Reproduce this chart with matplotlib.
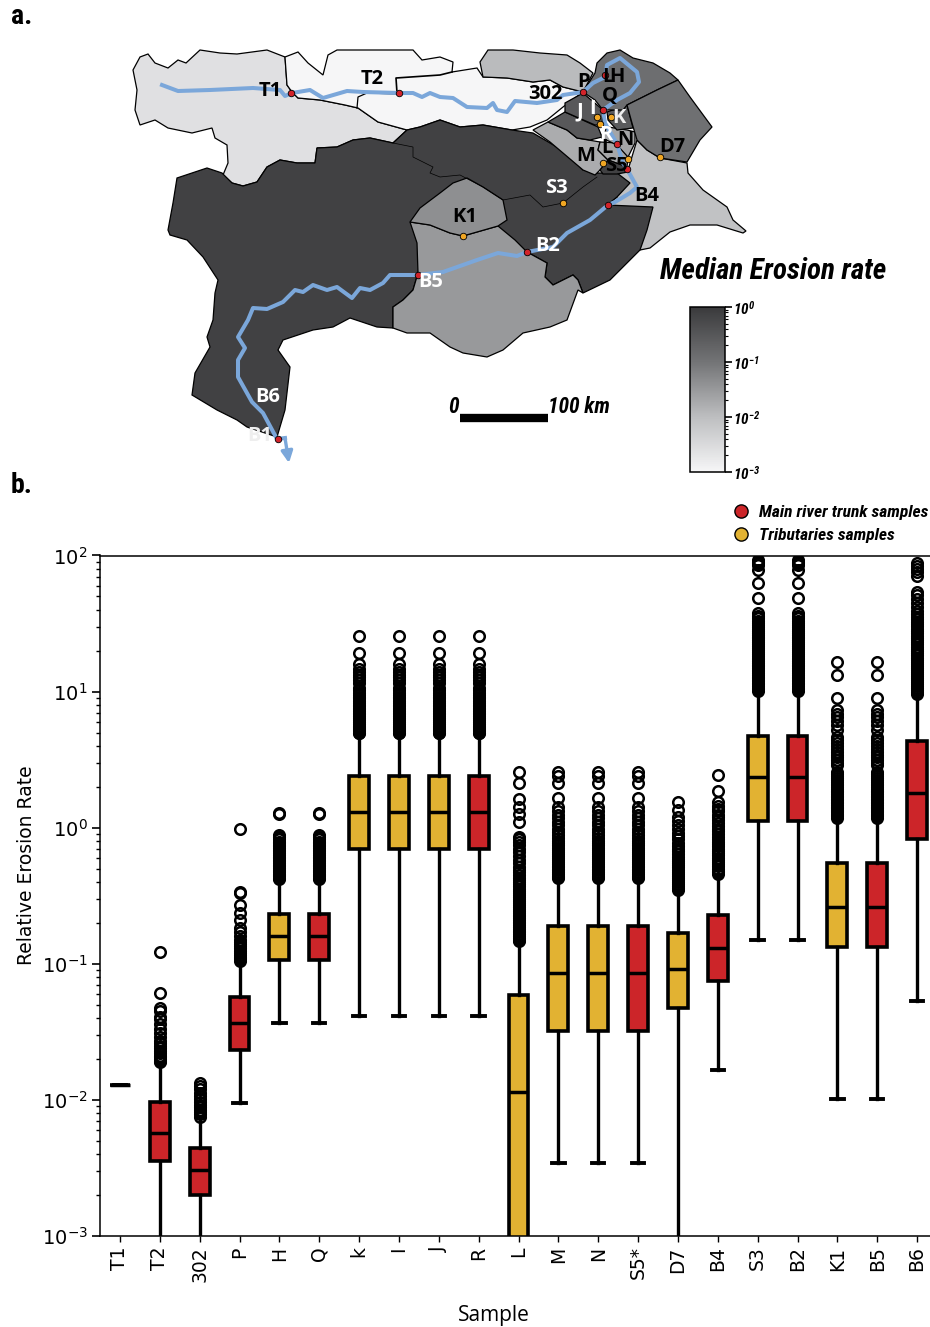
import math
import matplotlib
matplotlib.use('Agg')
import matplotlib.pyplot as plt
from matplotlib.colors import LinearSegmentedColormap, LogNorm
from matplotlib.cm import ScalarMappable
from matplotlib.lines import Line2D
from matplotlib.patches import Polygon, FancyArrowPatch
from matplotlib.ticker import LogLocator, NullFormatter

# ---------- panel b data ----------
samples = ['T1','T2','302','P','H','Q','k','I','J','R','L','M','N','S5*','D7','B4','S3','B2','K1','B5','B6']
kinds = ['trunk','trunk','trunk','trunk','trib','trunk','trib','trib','trib','trunk','trib','trib','trib','trunk','trib','trunk','trib','trunk','trib','trunk','trunk']
medians = [0.01294,0.00574,0.00305,0.0365,0.16,0.16,1.30,1.30,1.30,1.30,0.01148,0.0851,0.0851,0.0851,0.0916,0.13,2.35,2.35,0.261,0.261,1.81]
q1s = [0.01294,0.00357,0.0020,0.0233,0.1067,0.1067,0.701,0.701,0.701,0.701,0.0005,0.0323,0.0323,0.0323,0.0476,0.0752,1.12,1.12,0.1321,0.1321,0.822]
q3s = [0.01294,0.0097,0.00441,0.0573,0.2323,0.2323,2.38,2.38,2.38,2.38,0.059,0.188,0.188,0.188,0.169,0.230,4.70,4.70,0.55,0.55,4.35]
whislos = [0.01294,0.0005,0.0005,0.00948,0.0369,0.0369,0.0416,0.0416,0.0416,0.0416,0.0005,0.00342,0.00342,0.00342,0.0005,0.0166,0.1496,0.1496,0.01016,0.01016,0.0533]
whishis = [0.01294,0.0189,0.0075,0.105,0.42,0.42,4.95,4.95,4.95,4.95,0.146,0.425,0.425,0.425,0.35,0.46,10.1,10.1,1.18,1.18,9.6]

fliers_T2 = [0.122,0.0613,0.0471,0.045,0.041,0.039,0.036,0.033,0.031,0.029,0.027,0.026,0.025,0.024,0.023,0.022,0.021,0.0205,0.020,0.0194,0.0189]
fliers_302 = [0.0134,0.0126,0.012,0.0113,0.0107,0.0101,0.0096,0.0092,0.0088,0.0085,0.0082,0.0079,0.0075]
fliers_P = [0.973,0.337,0.33,0.27,0.235,0.21,0.183,0.17,0.16,0.15,0.145,0.14,0.135,0.13,0.125,0.12,0.116,0.113,0.11,0.108,0.105]
fliers_H = [1.28,1.26,0.883,0.85,0.82,0.79,0.77,0.75,0.73,0.71,0.69,0.67,0.65,0.63,0.61,0.6,0.58,0.565,0.55,0.535,0.52,0.505,0.49,0.48,0.47,0.46,0.45,0.44,0.43,0.42]
fliers_k = [25.6,19.1,16,14.6,13.9,13.3,12.7,12.1,11.6,10.6,10.2,9.8,9.5,9.2,8.9,8.6,8.3,8.0,7.8,7.6,7.4,7.2,7.0,6.8,6.6,6.4,6.2,6.0,5.8,5.6,5.5,5.4,5.3,5.2,5.1,5.0,4.95]
fliers_L = [2.55,2.12,1.63,1.43,1.26,1.1,0.86,0.82,0.78,0.74,0.7,0.66,0.62,0.58,0.55,0.516,0.49,0.47,0.45,0.43,0.415,0.4,0.385,0.37,0.355,0.34,0.33,0.32,0.31,0.3,0.29,0.28,0.27,0.262,0.254,0.246,0.238,0.23,0.223,0.216,0.21,0.204,0.198,0.192,0.186,0.18,0.175,0.17,0.165,0.16,0.155,0.15,0.146]
fliers_M = [2.55,2.4,2.12,1.64,1.43,1.33,1.25,1.17,1.1,1.04,0.98,0.93,0.88,0.84,0.8,0.77,0.74,0.71,0.68,0.66,0.64,0.62,0.6,0.58,0.56,0.54,0.525,0.51,0.5,0.485,0.47,0.455,0.445,0.435,0.425]
fliers_D7 = [1.55,1.35,1.2,1.12,1.05,0.98,0.92,0.87,0.82,0.77,0.73,0.7,0.67,0.64,0.61,0.59,0.57,0.55,0.53,0.51,0.49,0.475,0.46,0.445,0.43,0.415,0.4,0.385,0.37,0.36,0.35]
fliers_B4 = [2.44,1.86,1.55,1.45,1.38,1.32,1.25,1.19,1.13,1.08,1.03,0.98,0.94,0.9,0.86,0.82,0.79,0.76,0.73,0.7,0.67,0.65,0.63,0.6,0.58,0.56,0.54,0.52,0.5,0.48,0.47,0.46]
fliers_S3 = [92,90,88,85,78,62.5,48.4,37.6,36,34.5,33,32,31,30,29,28,27,26.2,25.4,24.6,23.8,23,22.3,21.6,20.9,20.2,19.6,19,18.4,17.8,17.3,16.8,16.3,15.8,15.3,14.9,14.5,14.1,13.7,13.3,12.9,12.5,12.2,11.9,11.6,11.3,11,10.7,10.4,10.1]
fliers_K1 = [16.4,13.2,8.9,7.3,6.9,6.5,6.1,5.7,5.2,4.6,4.4,4.2,4.0,3.8,3.6,3.45,3.3,3.15,3.0,2.9,2.58,2.48,2.4,2.32,2.25,2.18,2.11,2.05,1.99,1.93,1.87,1.82,1.77,1.72,1.67,1.63,1.59,1.55,1.51,1.47,1.43,1.39,1.36,1.33,1.3,1.27,1.24,1.21,1.18]
fliers_B6 = [87.7,84,80,76,71,54,51,48,45,42,39,37,35.5,34,32.7,31.4,30.2,29,27.9,26.8,25.8,24.8,23.9,23,22.2,21.4,20.6,19.9,19.2,18.5,17.8,17.2,16.6,16,15.4,14.9,14.4,13.9,13.4,13,12.6,12.2,11.8,11.4,11,10.6,10.3,10,9.6]
fliers_all = [[],fliers_T2,fliers_302,fliers_P,fliers_H,fliers_H,fliers_k,fliers_k,fliers_k,fliers_k,fliers_L,fliers_M,fliers_M,fliers_M,fliers_D7,fliers_B4,fliers_S3,fliers_S3,fliers_K1,fliers_K1,fliers_B6]

# ---------- panel a data (map coordinates) ----------
basin_T1 = [(133,70),(140,57),(148,54),(155,63),(168,68),(178,60),(186,63),(200,50),(220,53),(237,54),(267,50),(285,57),(287,85),(292,92),(298,98),(320,100),(345,105),(358,108),(378,122),(407,130),(393,143),(370,138),(353,140),(337,147),(317,148),(315,163),(297,163),(280,160),(267,167),(257,182),(243,186),(232,183),(223,175),(228,163),(227,145),(215,138),(212,128),(192,133),(168,128),(155,120),(140,125),(135,110),(137,90)]
basin_T2 = [(285,57),(298,52),(308,63),(323,75),(328,55),(337,50),(413,50),(422,60),(440,57),(453,62),(452,72),(477,68),(483,77),(507,78),(533,82),(550,80),(563,87),(583,92),(563,107),(547,120),(530,127),(512,130),(483,125),(460,127),(440,120),(420,127),(407,130),(378,122),(358,108),(345,105),(320,100),(298,98),(292,92),(287,85)]
basin_north = [(488,50),(480,62),(483,77),(507,78),(533,82),(550,80),(563,87),(583,92),(593,73),(580,63),(567,55),(540,53),(513,50)]
basin_B4 = [(617,173),(628,170),(637,140),(647,150),(660,158),(687,163),(688,173),(703,190),(727,207),(733,220),(746,231),(743,233),(717,225),(690,225),(670,232),(650,248),(640,250),(640,215),(607,205),(617,197)]
basin_big = [(177,178),(207,168),(222,173),(232,183),(243,186),(257,182),(267,167),(280,160),(297,163),(315,163),(317,148),(337,147),(353,140),(370,138),(393,143),(407,130),(420,127),(440,120),(460,127),(483,125),(512,130),(533,133),(550,143),(567,153),(583,170),(597,173),(617,173),(630,183),(617,197),(607,205),(653,207),(647,230),(640,250),(625,265),(610,280),(583,293),(578,280),(573,275),(553,285),(545,277),(547,263),(527,252),(418,273),(413,290),(403,300),(393,307),(393,328),(377,327),(350,318),(333,327),(313,330),(283,340),(278,350),(290,367),(285,410),(277,437),(247,427),(237,420),(217,410),(192,395),(195,373),(210,347),(207,337),(213,320),(215,293),(218,280),(203,257),(187,240),(170,235),(168,230),(173,203)]
basin_B2 = [(410,222),(430,225),(450,233),(463,236),(498,226),(515,240),(527,252),(547,263),(545,277),(553,285),(573,275),(578,280),(583,293),(578,290),(567,320),(550,327),(523,333),(503,350),(487,357),(463,353),(450,347),(430,333),(407,333),(393,328),(393,307),(403,300),(413,290),(418,273),(417,243)]
basin_K1 = [(410,222),(420,208),(440,193),(453,183),(467,178),(483,187),(503,200),(507,220),(498,226),(463,236),(450,233),(430,225)]
basin_M = [(533,130),(548,122),(567,130),(577,138),(600,142),(598,150),(608,160),(603,167),(595,175),(583,170),(563,153),(550,142)]
basin_L = [(598,150),(600,142),(618,143),(628,157),(627,167),(608,160)]
basin_N = [(600,137),(608,127),(627,130),(635,132),(635,143),(628,157),(617,145)]
basin_S5 = [(608,160),(627,167),(628,172),(617,174),(603,174),(600,170)]
basin_R = [(548,122),(565,112),(598,127),(602,137),(590,140),(577,138),(567,130)]
basin_J = [(565,103),(583,93),(603,110),(602,125),(595,125),(565,112)]
basin_K = [(607,112),(627,105),(633,128),(617,130),(608,120)]
basin_H = [(597,63),(607,53),(620,50),(633,58),(653,63),(670,73),(678,80),(657,90),(627,105),(623,110),(603,110),(595,100),(583,92),(595,73)]
basin_D7 = [(627,105),(657,90),(678,80),(690,97),(712,127),(700,140),(687,162),(660,158),(647,150),(637,140),(632,123)]
basins = [basin_T1,basin_T2,basin_north,basin_B4,basin_big,basin_B2,basin_K1,basin_M,basin_L,basin_N,basin_S5,basin_R,basin_J,basin_K,basin_H,basin_D7]
basin_rates = [0.0025,0.001,0.011,0.0085,0.75,0.0316,0.043,0.0175,0.02,0.022,0.75,0.3,0.3,0.27,0.126,0.116]
divide_S3 = [(393,143),(413,147),(413,157),(433,167),(430,173),(440,177),(460,175),(483,187),(503,200),(530,195),(543,207),(563,203),(583,187),(597,177)]
divide_T2a = [(397,93),(396,78),(440,75),(452,72)]
divide_T2b = [(399,94),(367,93),(358,97),(357,108)]
river = [(162,85),(178,91),(210,90),(253,88),(280,90),(285,96),(292,93),(310,90),(323,98),(347,91),(363,92),(399,93),(413,93),(422,97),(430,93),(440,97),(453,98),(467,107),(487,108),(493,103),(497,110),(507,112),(515,101),(537,103),(557,100),(563,95),(583,92),(593,83),(605,77),(607,65),(620,58),(637,72),(639,82),(630,93),(617,100),(603,110),(605,123),(617,144),(623,163),(627,169),(637,187),(630,193),(615,202),(608,205),(590,220),(567,233),(553,247),(527,252),(517,256),(498,253),(477,260),(443,272),(418,275),(390,275),(383,283),(370,290),(360,288),(352,298),(337,287),(327,290),(313,285),(303,292),(295,290),(283,302),(267,309),(253,308),(248,320),(238,337),(245,348),(238,360),(238,377),(252,402),(263,413),(277,439),(285,438)]
trunk_pts = [(291,93),(399,93),(583,92),(605,75),(603,110),(617,144),(627,169),(608,205),(527,252),(418,275),(278,439)]
trib_pts = [(597,117),(611,117),(600,124),(628,159),(603,163),(660,157),(563,203),(463,236)]
map_labels = [('T1',270,91,'k'),('T2',372,79,'k'),('302',545,94,'k'),('P',584,82,'k'),('L',608,77,'k'),('H',617,77,'k'),('Q',610,96,'k'),
              ('J',580,111,'w'),('I',593,109,'w'),('K',619,118,'#eeeeee'),('R',606,135,'w'),('N',625,140,'k'),('L',607,148,'k'),('M',586,156,'k'),
              ('S5',616,166,'k'),('D7',672,147,'k'),('S3',556,188,'w'),('B4',647,196,'k'),('K1',465,217,'k'),('B2',548,246,'w'),('B5',431,282,'w'),('B6',268,397,'w'),('B1',260,436,'#eeeeee')]
cbar_ticks = [1e-3,1e-2,1e-1,1e0]

# ---------- figure ----------
W, H = 930, 1327
fig = plt.figure(figsize=(W/100, H/100), dpi=100)
NARROW = ['Roboto Condensed','Open Sans Condensed','Lato']
RED, YEL = '#CC2529', '#E2B232'

# panel b
ax = fig.add_axes([100/W, 1-1236/H, 837/W, (1236-555.5)/H])
stats = [dict(label=s, med=m, q1=a, q3=b, whislo=l, whishi=h, fliers=f)
         for s,m,a,b,l,h,f in zip(samples,medians,q1s,q3s,whislos,whishis,fliers_all)]
bp = ax.bxp(stats, positions=range(1,22), widths=0.5, capwidths=0.31, patch_artist=True,
            boxprops=dict(linewidth=2.6, edgecolor='k'),
            medianprops=dict(linewidth=2.5, color='k'),
            whiskerprops=dict(linewidth=2.4, color='k'),
            capprops=dict(linewidth=2.8, color='k'),
            flierprops=dict(marker='o', mfc='none', mec='k', ms=7.6, mew=1.8))
for patch, kind in zip(bp['boxes'], kinds):
    patch.set_facecolor(RED if kind=='trunk' else YEL)
for upper_cap in bp['caps'][1::2]:
    upper_cap.set_visible(False)
ax.set_yscale('log')
ax.set_ylim(1e-3, 1e2)
ax.set_xlim(0.5, 21.5)
ax.yaxis.set_major_locator(LogLocator(base=10, numticks=10))
ax.yaxis.set_minor_locator(LogLocator(base=10, subs=[.2,.3,.4,.5,.6,.7,.8,.9], numticks=12))
ax.yaxis.set_minor_formatter(NullFormatter())
ax.tick_params(axis='y', which='major', length=6, width=1.2, labelsize=14, pad=3)
ax.tick_params(axis='y', which='minor', length=3.2, width=1.0)
ax.tick_params(axis='x', length=4.5, width=1.0, labelsize=13.5, pad=3)
ax.set_xticks(range(1,22))
ax.set_xticklabels(samples, rotation=90)
for s in ax.spines.values():
    s.set_linewidth(1.1)
ax.set_ylabel('Relative Erosion Rate', fontsize=13.5, labelpad=0)
ax.yaxis.set_label_coords(-64/837, 0.545)
fig.text(494/W, 1-1315/H, 'Sample', family='Open Sans', fontsize=15, ha='center', va='center')
ax.set_facecolor('none')

# panel a
m = fig.add_axes([0, 1-480/H, 1, 480/H])
m.set_xlim(0, 930)
m.set_ylim(480, 0)
m.axis('off')
cmap = LinearSegmentedColormap.from_list('er', ['#F6F6F7','#BDBEC0','#737476','#3A3A3C'])
norm = LogNorm(1e-3, 1)
for poly, rate in zip(basins, basin_rates):
    m.add_patch(Polygon(poly, closed=True, fc=cmap(norm(rate)), ec='k', lw=0.9))
for line, lw in [(divide_S3,0.5),(divide_T2a,1.2),(divide_T2b,0.9)]:
    m.plot(*zip(*line), color='k', lw=lw)
m.plot(*zip(*river), color='#7BA7DA', lw=2.9, solid_joinstyle='round')
m.add_patch(FancyArrowPatch(river[-1], (289,463), arrowstyle='-|>', mutation_scale=17, color='#7BA7DA', lw=2.4, shrinkA=0, shrinkB=0))
m.scatter(*zip(*trunk_pts), s=22, c='#D2232A', edgecolors='k', linewidths=0.6, zorder=5)
m.scatter(*zip(*trib_pts), s=22, c='#F0A623', edgecolors='k', linewidths=0.6, zorder=5)
for t,x,y,c in map_labels:
    m.text(x, y, t, color=c, family='Open Sans', weight='bold', fontsize=14.5, ha='center', va='center', zorder=6)
m.text(22, 16, 'a.', family=NARROW, weight='bold', fontsize=20, ha='center', va='center')
m.text(22, 485, 'b.', family=NARROW, weight='bold', fontsize=20, ha='center', va='center', clip_on=False)
m.text(773, 271, 'Median Erosion rate', family=NARROW, weight='bold', style='italic', fontsize=21, ha='center', va='center')
m.plot([460,548],[418,418], color='k', lw=6, solid_capstyle='butt')
m.text(453, 407, '0', family=NARROW, weight='bold', style='italic', fontsize=15.5, ha='center', va='center')
m.text(579, 407, '100 km', family=NARROW, weight='bold', style='italic', fontsize=15.5, ha='center', va='center')

# colour bar
cax = fig.add_axes([690/W, 1-472/H, 35/W, 165/H])
cbar = fig.colorbar(ScalarMappable(norm=norm, cmap=cmap), cax=cax)
cbar.set_ticks(cbar_ticks)
cbar.set_ticklabels([rf'$\mathdefault{{10^{{{int(round(math.log10(v)))}}}}}$' for v in cbar_ticks])
cax.tick_params(which='major', length=5, width=1.2, pad=0.5)
cax.tick_params(which='minor', length=2.5, width=0.8)
for lab in cax.get_yticklabels():
    lab.set_fontfamily(NARROW); lab.set_fontweight('bold'); lab.set_fontstyle('italic'); lab.set_fontsize(11)
cbar.outline.set_linewidth(1.1)

# legend
handles = [Line2D([],[],marker='o',ls='none',mfc=RED,mec='k',mew=1,ms=9.5),
           Line2D([],[],marker='o',ls='none',mfc=YEL,mec='k',mew=1,ms=9.5)]
leg = fig.legend(handles, ['Main river trunk samples','Tributaries samples'], loc='upper left',
                 bbox_to_anchor=(725/W, 1-496/H), frameon=False, handlelength=0.8, handletextpad=0.65, labelspacing=0.46,
                 borderpad=0, prop=dict(family=NARROW, weight='bold', style='italic', size=12.6))
fig.savefig('out.png', dpi=100)
